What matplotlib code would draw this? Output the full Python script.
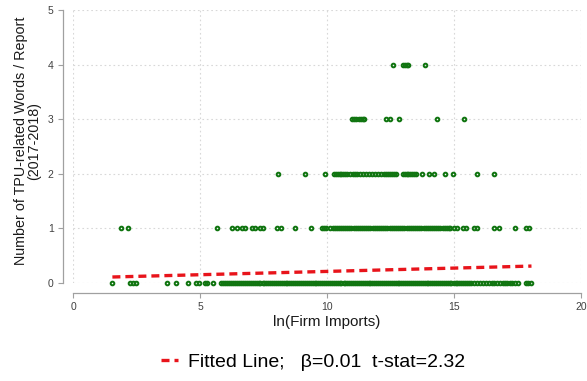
import matplotlib
matplotlib.use('Agg')
import matplotlib.pyplot as plt

plt.rcParams['font.family'] = ['Liberation Sans', 'DejaVu Sans']

# x = ln(Firm Imports) for firms at each count of TPU-related words
x_level0 = [1.55, 2.25, 2.38, 2.49, 3.70, 4.07, 4.53, 4.86, 4.95, 5.21, 5.28, 5.52, 5.81, 5.90, 5.99,
            6.07, 6.15, 6.22, 6.31, 6.38, 6.46, 6.55, 6.61, 6.70, 6.78, 6.85, 6.93, 7.01, 7.08, 7.16,
            7.23, 7.31, 7.38, 7.46, 7.53, 7.61, 7.68, 7.76, 7.84, 7.91, 7.99, 8.06, 8.14, 8.22, 8.29,
            8.37, 8.44, 8.52, 8.60, 8.67, 8.75, 8.82, 8.90, 8.98, 9.05, 9.13, 9.20, 9.28, 9.36, 9.43,
            9.51, 9.58, 9.66, 9.74, 9.81, 9.89, 9.96, 10.04, 10.12, 10.19, 10.27, 10.34, 10.42, 10.50,
            10.57, 10.65, 10.72, 10.80, 10.88, 10.95, 11.03, 11.10, 11.18, 11.26, 11.33, 11.41, 11.48,
            11.56, 11.64, 11.71, 11.79, 11.86, 11.94, 12.02, 12.09, 12.17, 12.24, 12.32, 12.40, 12.47,
            12.55, 12.62, 12.70, 12.78, 12.85, 12.93, 13.00, 13.08, 13.16, 13.23, 13.31, 13.38, 13.46,
            13.54, 13.61, 13.69, 13.76, 13.84, 13.92, 13.99, 14.07, 14.14, 14.22, 14.30, 14.37, 14.45,
            14.52, 14.60, 14.68, 14.75, 14.83, 14.90, 14.98, 15.06, 15.13, 15.21, 15.28, 15.36, 15.44,
            15.51, 15.59, 15.66, 15.78, 15.90, 16.02, 16.15, 16.24, 16.37, 16.49, 16.58, 16.70, 16.81,
            16.93, 17.02, 17.10, 17.19, 17.30, 17.42, 17.50, 17.82, 17.93, 18.05]
x_level1 = [1.90, 2.16, 5.65, 6.27, 6.47, 6.67, 6.76, 7.06, 7.15, 7.35, 7.46, 8.05, 8.18, 8.73, 9.37,
            9.80, 9.87, 9.95, 10.10, 10.22, 10.30, 10.38, 10.46, 10.55, 10.63, 10.71, 10.80, 10.88,
            10.96, 11.05, 11.13, 11.21, 11.30, 11.38, 11.46, 11.55, 11.63, 11.71, 11.80, 11.88, 11.96,
            12.05, 12.13, 12.21, 12.30, 12.38, 12.46, 12.55, 12.63, 12.71, 12.80, 12.88, 12.96, 13.05,
            13.13, 13.21, 13.30, 13.38, 13.46, 13.55, 13.63, 13.71, 13.80, 13.88, 13.96, 14.05, 14.13,
            14.21, 14.30, 14.38, 14.46, 14.55, 14.63, 14.71, 14.80, 14.86, 15.00, 15.12, 15.34, 15.47,
            15.77, 15.89, 16.59, 16.76, 17.40, 17.83, 17.97]
x_level2 = [8.08, 9.13, 9.92, 10.29, 10.36, 10.43, 10.50, 10.57, 10.64, 10.71, 10.78, 10.90, 11.02,
            11.10, 11.18, 11.30, 11.42, 11.54, 11.66, 11.78, 11.90, 12.00, 12.13, 12.25, 12.33, 12.40,
            12.48, 12.55, 12.62, 12.73, 12.99, 13.06, 13.13, 13.20, 13.27, 13.34, 13.41, 13.52, 13.74,
            14.02, 14.21, 14.66, 14.97, 15.90, 16.58]
x_level3 = [11.00, 11.08, 11.16, 11.24, 11.32, 11.40, 11.47, 12.33, 12.46, 12.83, 14.33, 15.39]
x_level4 = [12.60, 13.00, 13.07, 13.13, 13.20, 13.85]

levels = [0, 1, 2, 3, 4]
x_by_level = [x_level0, x_level1, x_level2, x_level3, x_level4]

# fitted line end points
fit_x = [1.55, 18.05]
fit_y = [0.11, 0.31]
fit_label = 'Fitted Line;   \u03b2=0.01  t-stat=2.32'

x_ticks = [0, 5, 10, 15, 20]
y_ticks = [0, 1, 2, 3, 4, 5]

fig = plt.figure(figsize=(5.87, 3.81), dpi=100)
ax = fig.add_axes([0.1244, 0.2572, 0.8654, 0.7166])

for lvl, xs in zip(levels, x_by_level):
    ax.plot(xs, [lvl] * len(xs), linestyle='none', marker='o', markersize=2.6,
            markerfacecolor='none', markeredgecolor='#117511', markeredgewidth=1.45,
            clip_on=False, zorder=3)

ax.plot(fit_x, fit_y, color='#e8141b', linewidth=2.4, dashes=(2.4, 1.5),
        label=fit_label, zorder=4, solid_capstyle='butt', dash_capstyle='butt')

ax.set_xlim(0, 20)
ax.set_ylim(0, 5)
ax.set_xticks(x_ticks)
ax.set_yticks(y_ticks)

for side in ['top', 'right']:
    ax.spines[side].set_visible(False)
for side in ['left', 'bottom']:
    ax.spines[side].set_position(('outward', 7))
    ax.spines[side].set_color('#a0a0a0')
    ax.spines[side].set_linewidth(0.9)
ax.spines['left'].set_bounds(0, 5)
ax.spines['bottom'].set_bounds(0, 20)

ax.tick_params(axis='both', colors='#a0a0a0', labelcolor='#404040', labelsize=7.5,
               length=3.5, width=0.8)
ax.grid(True, color='#d8d8d8', linestyle=(0, (1.5, 2.5)), linewidth=0.8)
ax.set_axisbelow(True)

ax.set_xlabel('ln(Firm Imports)', fontsize=11, labelpad=2, color='#1a1a1a')
ax.set_ylabel('Number of TPU-related Words / Report\n(2017-2018)', fontsize=10.3,
              linespacing=0.95, color='#1a1a1a')
ax.yaxis.set_label_coords(-0.062, 0.52)

fig.legend(loc='center', bbox_to_anchor=(313 / 587, 1 - 362 / 381), frameon=False,
           fontsize=14, handlelength=0.9, handletextpad=0.5)

fig.savefig('out.png', dpi=100)
